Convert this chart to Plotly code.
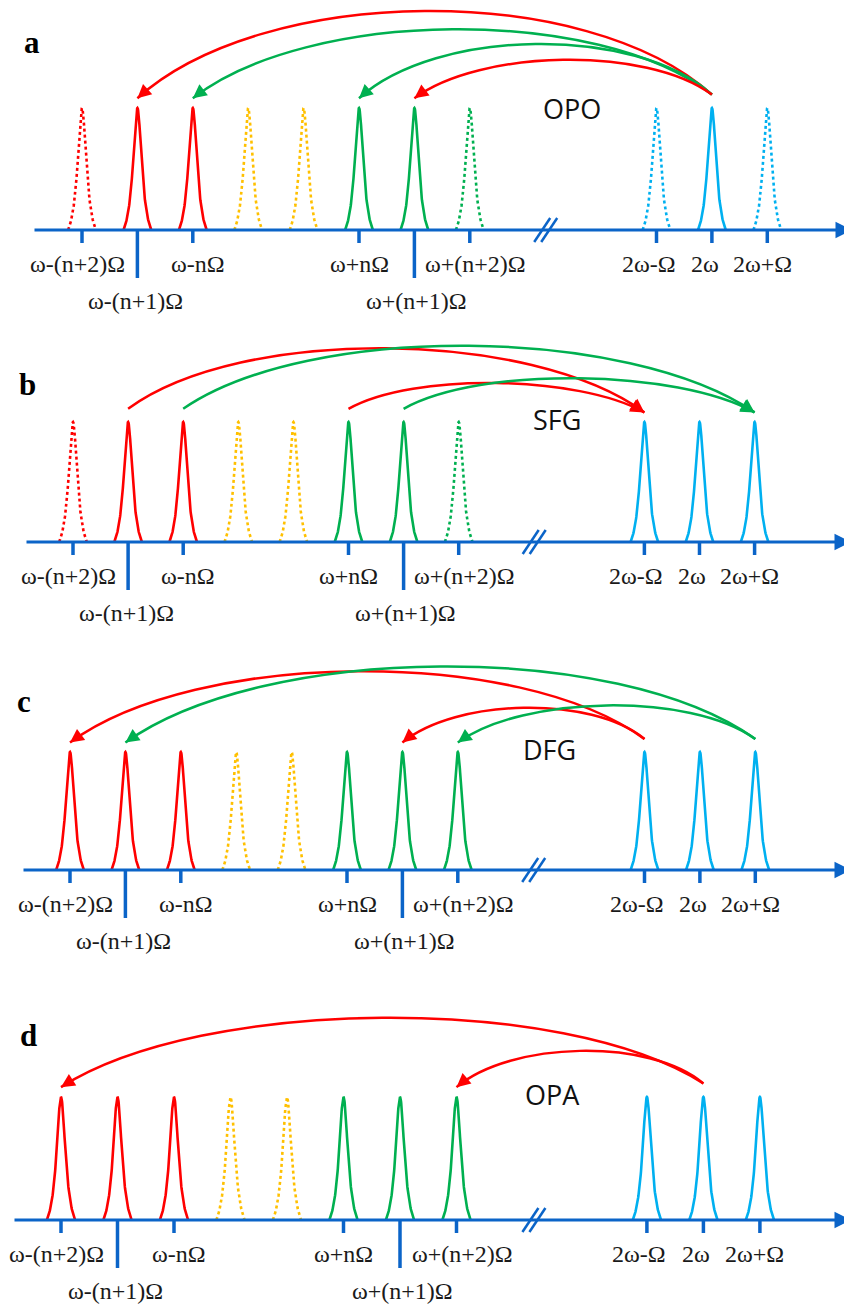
import numpy as np
import plotly.graph_objects as go

# ---------------- data ----------------
POSITIONS = [0, 1, 2, 3, 4, 5, 6, 7, 10.37, 11.37, 12.37]
LABELS = ["ω-(n+2)Ω", "ω-(n+1)Ω", "ω-nΩ", "", "", "ω+nΩ", "ω+(n+1)Ω",
          "ω+(n+2)Ω", "2ω-Ω", "2ω", "2ω+Ω"]
GROUPS = ["red", "red", "red", "yellow", "yellow", "green", "green", "green",
          "blue", "blue", "blue"]
TICK_KIND = ["short", "long", "short", None, None, "short", "long", "short",
             "short", "short", "short"]
HEIGHTS = [1, 1, 1, 1, 1, 1, 1, 1, 1, 1, 1]

SOLID_A = [0, 1, 1, 0, 0, 1, 1, 0, 0, 1, 0]
SOLID_B = [0, 1, 1, 0, 0, 1, 1, 0, 1, 1, 1]
SOLID_C = [1, 1, 1, 0, 0, 1, 1, 1, 1, 1, 1]
SOLID_D = [1, 1, 1, 0, 0, 1, 1, 1, 1, 1, 1]

# arcs: (source index, target index, colour group, arc rise)
ARCS_A = [(9, 1, "red", 0.70), (9, 2, "green", 0.55), (9, 5, "green", 0.43), (9, 6, "red", 0.30)]
ARCS_B = [(1, 8, "red", 0.52), (2, 10, "green", 0.54), (5, 8, "red", 0.23), (6, 10, "green", 0.27)]
ARCS_C = [(8, 0, "red", 0.59), (10, 1, "green", 0.63), (8, 6, "red", 0.28), (10, 7, "green", 0.30)]
ARCS_D = [(9, 0, "red", 0.55), (9, 7, "red", 0.28)]

PROCESS_NAMES = ["OPO", "SFG", "DFG", "OPA"]
PANEL_LETTERS = ["a", "b", "c", "d"]
BREAK_POS = 8.37

# ---------------- style ----------------
OFF = 8  # page body margin of the html page
W, H = 852 - OFF, 1307 - OFF
COLORS = {"red": "#FF0000", "green": "#00B050", "yellow": "#FFC000", "blue": "#00B0F0"}
AXIS_COLOR = "#0B64C8"
SERIF = "Liberation Serif, Times New Roman, serif"
SANS = "Open Sans, Noto Sans, sans-serif"

# per panel geometry in reference pixels: domain top/bottom, axis row, px per y-unit,
# pixel of index 0, px per index step, axis start / arrow tip pixels
PANELS = [
    dict(top=0, bottom=318, A=230, k=122, x0=82, s=55.4, ax0=33, ax1=852,
         name_xy=(8.85, 1.0), letter=(32, 43), solid=SOLID_A, arcs=ARCS_A),
    dict(top=318, bottom=638, A=542, k=120, x0=73, s=55.1, ax0=25, ax1=851,
         name_xy=(8.78, 1.02), letter=(27, 385), solid=SOLID_B, arcs=ARCS_B),
    dict(top=638, bottom=962, A=870, k=118, x0=70, s=55.4, ax0=22, ax1=851,
         name_xy=(8.66, 1.02), letter=(24, 701), solid=SOLID_C, arcs=ARCS_C),
    dict(top=962, bottom=1307, A=1220, k=123, x0=61, s=56.5, ax0=13, ax1=851,
         name_xy=(8.7, 1.02), letter=(28, 1035), solid=SOLID_D, arcs=ARCS_D),
]
LABEL_XSHIFT = [-5, -2, 5, 0, 0, 0, 2, 6, -8, -7, -5]

fig = go.Figure()
shapes, annotations = [], []
layout_axes = {}

half_base, gamma = 0.25, 0.1
grid = np.linspace(-half_base, half_base, 121)
L = 1.0 / (1.0 + (grid / gamma) ** 2)
Lend = 1.0 / (1.0 + (half_base / gamma) ** 2)
profile = (L - Lend) / (1 - Lend)

for i, P in enumerate(PANELS):
    xa = "x" if i == 0 else f"x{i + 1}"
    ya = "y" if i == 0 else f"y{i + 1}"
    xkey = "xaxis" if i == 0 else f"xaxis{i + 1}"
    ykey = "yaxis" if i == 0 else f"yaxis{i + 1}"
    s, k = P["s"], P["k"]
    A = P["A"] - OFF
    px0 = P["x0"] - OFF
    top = max(0, P["top"] - OFF)
    bottom = min(H, P["bottom"] - OFF)
    layout_axes[xkey] = dict(domain=[0, 1], range=[-px0 / s, (W - px0) / s],
                             visible=False, anchor=ya, fixedrange=True)
    layout_axes[ykey] = dict(domain=[1 - bottom / H, 1 - top / H],
                             range=[(A - bottom) / k, (A - top) / k],
                             visible=False, anchor=xa, fixedrange=True)

    # axis line with arrow
    annotations.append(dict(x=(P["ax1"] - P["x0"]) / s, y=0,
                            ax=(P["ax0"] - P["x0"]) / s, ay=0, xref=xa, yref=ya,
                            axref=xa, ayref=ya, showarrow=True, arrowhead=2, arrowsize=1.1,
                            arrowwidth=3, arrowcolor=AXIS_COLOR, text=""))

    # peaks
    for j, pos in enumerate(POSITIONS):
        fig.add_trace(go.Scatter(
            x=pos + grid, y=HEIGHTS[j] * profile, mode="lines",
            line=dict(color=COLORS[GROUPS[j]], width=2.6,
                      dash="solid" if P["solid"][j] else "dot"),
            xaxis=xa, yaxis=ya, hoverinfo="skip", showlegend=False))

    # ticks and labels
    for j, pos in enumerate(POSITIONS):
        kind = TICK_KIND[j]
        if kind is None:
            continue
        length = 13 if kind == "short" else 48
        shapes.append(dict(type="line", xref=xa, yref=ya, x0=pos, x1=pos, y0=0,
                           y1=-length / k, line=dict(color=AXIS_COLOR, width=3.5)))
        annotations.append(dict(x=pos, y=0, xref=xa, yref=ya, showarrow=False,
                                text=LABELS[j], xanchor="center", yanchor="middle",
                                yshift=-34 if kind == "short" else -71,
                                xshift=LABEL_XSHIFT[j],
                                font=dict(family=SERIF, size=24, color="#1a1a1a")))

    # break mark
    for off in (-3.5, 3.5):
        shapes.append(dict(type="line", xref=xa, yref=ya,
                           x0=BREAK_POS + (off - 8) / s, y0=-12 / k,
                           x1=BREAK_POS + (off + 8) / s, y1=12 / k,
                           line=dict(color=AXIS_COLOR, width=2.5)))

    # arcs
    f = 0.22
    for (src, dst, grp, rise) in P["arcs"]:
        x0 = POSITIONS[src]
        x3 = POSITIONS[dst]
        y0 = HEIGHTS[src] + 0.11
        y3 = HEIGHTS[dst] + 0.08
        x1 = x0 + f * (x3 - x0)
        x2 = x3 - f * (x3 - x0)
        y1 = y0 + 4 / 3 * rise
        y2 = y3 + 4 / 3 * rise
        shapes.append(dict(type="path", xref=xa, yref=ya,
                           path=f"M {x0},{y0} C {x1},{y1} {x2},{y2} {x3},{y3}",
                           line=dict(color=COLORS[grp], width=2.5)))
        dxp = (x3 - x2) * s
        dyp = -(y3 - y2) * k
        n = np.hypot(dxp, dyp)
        annotations.append(dict(x=x3, y=y3, xref=xa, yref=ya, showarrow=True,
                                ax=-dxp / n * 11, ay=-dyp / n * 11, text="",
                                arrowhead=2, arrowsize=1.1, arrowwidth=2.5,
                                arrowcolor=COLORS[grp], standoff=0))

    # process name and panel letter
    annotations.append(dict(x=P["name_xy"][0], y=P["name_xy"][1], xref=xa, yref=ya,
                            text=PROCESS_NAMES[i], showarrow=False, xanchor="center",
                            yanchor="middle", font=dict(family=SANS, size=27, color="#111111")))
    annotations.append(dict(x=(P["letter"][0] - OFF) / W, y=1 - (P["letter"][1] - OFF) / H,
                            xref="paper", yref="paper", text=f"<b>{PANEL_LETTERS[i]}</b>",
                            showarrow=False, xanchor="center", yanchor="middle",
                            font=dict(family=SERIF, size=31, color="#000000")))

fig.update_layout(width=W, height=H, margin=dict(l=0, r=0, t=0, b=0),
                  paper_bgcolor="white", plot_bgcolor="white",
                  shapes=shapes, annotations=annotations, **layout_axes)
fig.write_html("out.html")
